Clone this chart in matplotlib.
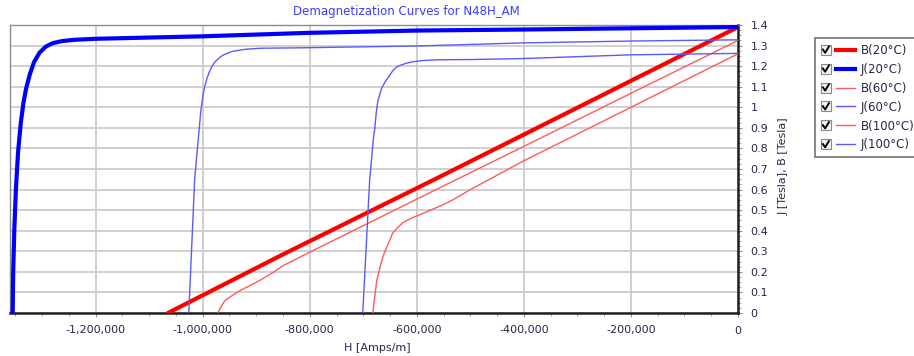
import numpy as np
import matplotlib
matplotlib.use("Agg")
import matplotlib.pyplot as plt
from matplotlib.ticker import FuncFormatter, MultipleLocator
from matplotlib.lines import Line2D
from matplotlib.patches import Rectangle
from matplotlib.legend_handler import HandlerBase

# curves (H in A/m, J/B in Tesla)
j20_h = [-1355000, -1354000, -1352000, -1349000, -1345000, -1340000, -1335000, -1330000,
         -1323000, -1315000, -1305000, -1293000, -1280000, -1262000, -1240000, -1200000,
         -1000000, -800000, -600000, -400000, -200000, 0]
j20_v = [0, 0.2, 0.4, 0.6, 0.78, 0.92, 1.02, 1.09,
         1.16, 1.22, 1.265, 1.295, 1.312, 1.322, 1.328, 1.333,
         1.345, 1.362, 1.373, 1.378, 1.384, 1.39]

b20_h = [-1065000, -850000, -562600, 0]
b20_v = [0, 0.285, 0.655, 1.39]

j60_h = [-1026000, -1015000, -1004000, -1000000, -996000, -992000, -988000, -983000,
         -978000, -970000, -963000, -954000, -944000, -920000, -893000, -819000,
         -600000, -400000, -200000, 0]
j60_v = [0, 0.65, 0.97, 1.05, 1.104, 1.14, 1.17, 1.197,
         1.218, 1.238, 1.252, 1.263, 1.272, 1.282, 1.287, 1.289,
         1.298, 1.313, 1.322, 1.328]

b60_h = [-972000, -966000, -958900, -945000, -930900, -912000, -893500, -870000,
         -850000, -800000, -693500, -551400, -400000, -200000, 0]
b60_v = [0, 0.03, 0.059, 0.085, 0.108, 0.133, 0.158, 0.195,
         0.23, 0.296, 0.433, 0.616, 0.81, 1.068, 1.325]

j100_h = [-701000, -688000, -681000, -678500, -676000, -672900, -669000, -665400,
          -660000, -654200, -649000, -644900, -638000, -630000, -620000, -608000,
          -590000, -560000, -500900, -400000, -200000, 0]
j100_v = [0, 0.651, 0.85, 0.897, 0.97, 1.030, 1.065, 1.094,
          1.12, 1.143, 1.162, 1.178, 1.195, 1.205, 1.214, 1.221,
          1.227, 1.231, 1.232, 1.237, 1.255, 1.262]

b100_h = [-682200, -678500, -674800, -670000, -665400, -661000, -656100, -650000,
          -644900, -636000, -626200, -615000, -603700, -588000, -571900, -552000,
          -532700, -500000, -400000, -200000, 0]
b100_v = [0, 0.08, 0.158, 0.21, 0.256, 0.29, 0.320, 0.357,
          0.389, 0.415, 0.439, 0.455, 0.468, 0.485, 0.503, 0.525,
          0.55, 0.6, 0.74, 1.0, 1.26]

series = [
    ("B(20°C)", b20_h, b20_v, "#ff0000", 3.0),
    ("J(20°C)", j20_h, j20_v, "#0000ff", 3.0),
    ("B(60°C)", b60_h, b60_v, "#ff5a5a", 1.0),
    ("J(60°C)", j60_h, j60_v, "#5a5aff", 1.0),
    ("B(100°C)", b100_h, b100_v, "#ff5a5a", 1.0),
    ("J(100°C)", j100_h, j100_v, "#5a5aff", 1.0),
]


class CheckLine(HandlerBase):
    # legend entry: ticked check box followed by a short line sample
    def create_artists(self, legend, orig_handle, xdescent, ydescent, width, height,
                       fontsize, trans):
        s = 0.85 * fontsize
        y0 = height / 2 - s / 2 - ydescent
        x0 = -xdescent
        box = Rectangle((x0, y0), s, s, facecolor='#f4f4f4', edgecolor='#8a8a8a',
                        lw=0.8, transform=trans)
        tick = Line2D([x0 + 0.2 * s, x0 + 0.42 * s, x0 + 0.8 * s],
                      [y0 + 0.52 * s, y0 + 0.2 * s, y0 + 0.82 * s],
                      color='black', lw=1.4, transform=trans)
        lx = x0 + s + 0.4 * fontsize
        ln = Line2D([lx, x0 + width], [height / 2 - ydescent] * 2,
                    color=orig_handle.get_color(), lw=orig_handle.get_linewidth(),
                    transform=trans)
        return [box, tick, ln]


txt = "#26264a"
plt.rcParams['font.family'] = ['DejaVu Sans']
plt.rcParams['font.size'] = 8

fig = plt.figure(figsize=(9.14, 3.56), dpi=100)
ax = fig.add_axes([10/914, 43/356, 728/914, 288/356])

handles = []
for name, h, v, c, lw in series:
    ax.plot(h, v, color=c, lw=lw, solid_capstyle='round', solid_joinstyle='round', zorder=3)
    handles.append(Line2D([], [], color=c, lw=lw))

ax.set_xlim(-1360000, 0)
ax.set_ylim(0, 1.4)
ax.xaxis.set_major_locator(MultipleLocator(200000))
ax.xaxis.set_minor_locator(MultipleLocator(50000))
ax.yaxis.set_major_locator(MultipleLocator(0.1))
ax.yaxis.set_minor_locator(MultipleLocator(0.025))
ax.xaxis.set_major_formatter(FuncFormatter(lambda x, p: f"{x:,.0f}"))
ax.yaxis.set_major_formatter(FuncFormatter(lambda y, p: f"{y:g}"))
ax.yaxis.tick_right()
ax.yaxis.set_label_position("right")
ax.tick_params(axis='both', which='both', direction='out', colors='#909090',
               labelcolor=txt, labelsize=8)
ax.tick_params(axis='both', which='major', length=3, pad=6)
ax.tick_params(axis='both', which='minor', length=2)
ax.grid(True, which='major', color='#cdcdcd', lw=1.3, zorder=0)

for s in ['left', 'top']:
    ax.spines[s].set_color('#8c8c8c')
    ax.spines[s].set_linewidth(1.0)
for s in ['right', 'bottom']:
    ax.spines[s].set_color('#202020')
    ax.spines[s].set_linewidth(1.8)

fig.text(406/914, 1 - 11/356, "Demagnetization Curves for N48H_AM", color='#3c3cff',
         fontsize=8.5, ha='center', va='center')
ax.set_xlabel("H [Amps/m]", color=txt)
ax.xaxis.set_label_coords(0.505, -0.105)
ax.set_ylabel("J [Tesla], B [Tesla]", color=txt, rotation=90, va='center')
ax.yaxis.set_label_coords(1.062, 0.51)

leg = fig.legend(handles, [s[0] for s in series], loc='upper left',
                 bbox_to_anchor=(815/914, 1 - 38/356), frameon=True, fancybox=False,
                 borderpad=0.5, handlelength=2.9, handletextpad=0.5, labelspacing=0.5,
                 fontsize=8.5, borderaxespad=0, handler_map={Line2D: CheckLine()})
leg.get_frame().set_edgecolor('#505050')
leg.get_frame().set_linewidth(1.2)
for t in leg.get_texts():
    t.set_color(txt)

fig.savefig("out.png", dpi=100)
